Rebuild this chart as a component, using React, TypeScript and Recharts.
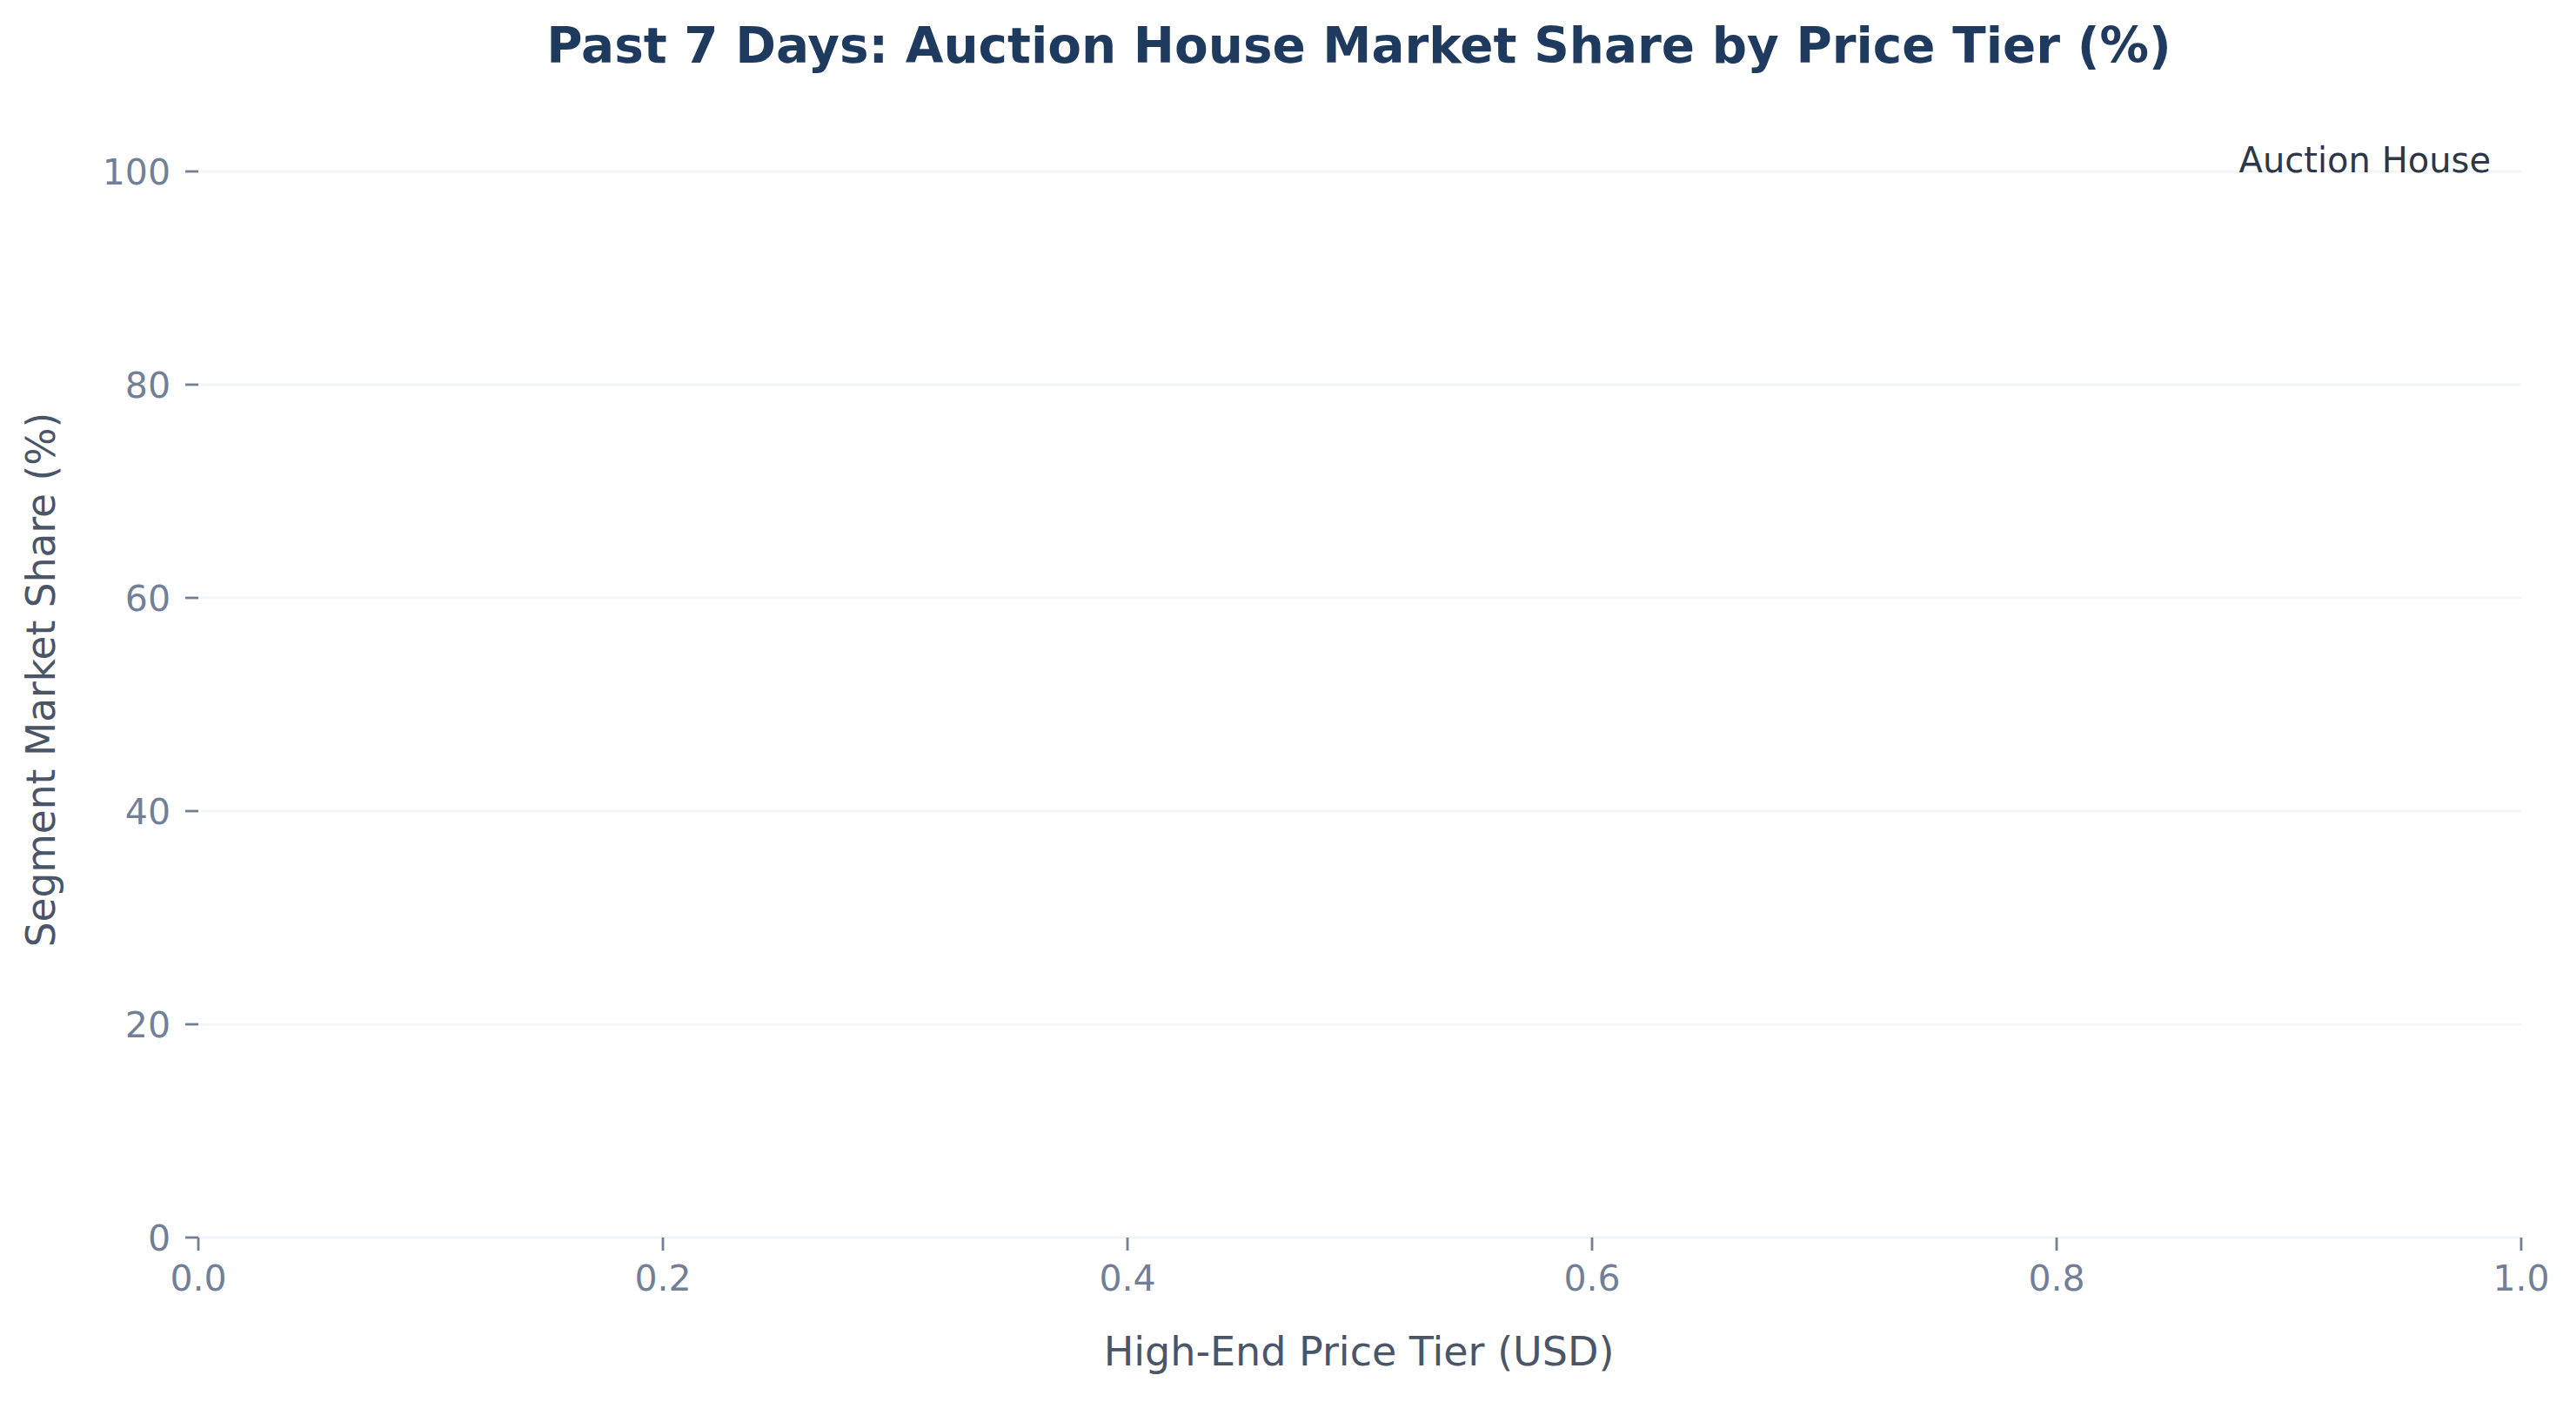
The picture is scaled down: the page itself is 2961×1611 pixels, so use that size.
import React from "react";
import {
  LineChart,
  Line,
  XAxis,
  YAxis,
  CartesianGrid,
  Legend,
  Customized,
} from "recharts";

// Data: the reference chart shows an empty series (no observations in the window)
const priceTiers: number[] = [];
const auctionHouseShare: number[] = [];

const seriesName = "Auction House";
const xTicks = [0, 0.2, 0.4, 0.6, 0.8, 1.0];
const yTicks = [0, 20, 40, 60, 80, 100];

const titleText = "Past 7 Days: Auction House Market Share by Price Tier (%)";
const xLabelText = "High-End Price Tier (USD)";
const yLabelText = "Segment Market Share (%)";

const data = priceTiers.map((tier, i) => ({ tier, share: auctionHouseShare[i] }));

const W = 2961;
const H = 1611;
const FONT = "DejaVu Sans, Verdana, sans-serif";

const tickStyle = { fill: "#718096", fontSize: 41, fontFamily: FONT };

const Annotations = () => (
  <g>
    <text
      x={1562}
      y={72}
      textAnchor="middle"
      fontFamily={FONT}
      fontWeight="bold"
      fontSize={56.4}
      fill="#1e3a5f"
    >
      {titleText}
    </text>
    <text
      x={1562}
      y={1569}
      textAnchor="middle"
      fontFamily={FONT}
      fontSize={46}
      fill="#4a5568"
    >
      {xLabelText}
    </text>
    <text
      x={63}
      y={781}
      textAnchor="middle"
      transform="rotate(-90 63 781)"
      fontFamily={FONT}
      fontSize={45.5}
      fill="#4a5568"
    >
      {yLabelText}
    </text>
  </g>
);

const LegendContent = (props: any) => {
  const label = props?.payload?.[0]?.value ?? seriesName;
  return (
    <div
      style={{
        fontFamily: FONT,
        fontSize: 40,
        color: "#2d3748",
        whiteSpace: "nowrap",
        lineHeight: "normal",
      }}
    >
      {label}
    </div>
  );
};

export default function App() {
  return (
    <div
      style={{
        position: "absolute",
        left: 0,
        top: 0,
        width: W,
        height: H,
        background: "#ffffff",
      }}
    >
      <LineChart
        width={W}
        height={H}
        data={data}
        margin={{ top: 197, right: 63, left: 0, bottom: 0 }}
      >
        <CartesianGrid
          horizontal={true}
          vertical={false}
          stroke="#f4f5f7"
          strokeWidth={3}
        />
        <XAxis
          dataKey="tier"
          type="number"
          domain={[0, 1]}
          ticks={xTicks}
          allowDataOverflow
          tickFormatter={(v: number) => v.toFixed(1)}
          axisLine={false}
          tickLine={{ stroke: "#718096", strokeWidth: 2.8 }}
          tickSize={15}
          tickMargin={17}
          tick={tickStyle}
          height={189}
          interval={0}
        />
        <YAxis
          type="number"
          domain={[0, 100]}
          ticks={yTicks}
          allowDataOverflow
          axisLine={false}
          tickLine={{ stroke: "#718096", strokeWidth: 2.8 }}
          tickSize={15}
          tickMargin={17}
          tick={tickStyle}
          width={228}
          interval={0}
        />
        <Line
          type="linear"
          dataKey="share"
          name={seriesName}
          stroke="#1e3a5f"
          strokeWidth={3}
          dot={false}
          isAnimationActive={false}
        />
        <Legend
          layout="vertical"
          align="center"
          verticalAlign="middle"
          content={LegendContent}
          wrapperStyle={{
            position: "absolute",
            top: 161,
            left: "auto",
            right: 98,
            width: "auto",
            height: "auto",
          }}
        />
        <Customized component={Annotations} />
      </LineChart>
    </div>
  );
}
